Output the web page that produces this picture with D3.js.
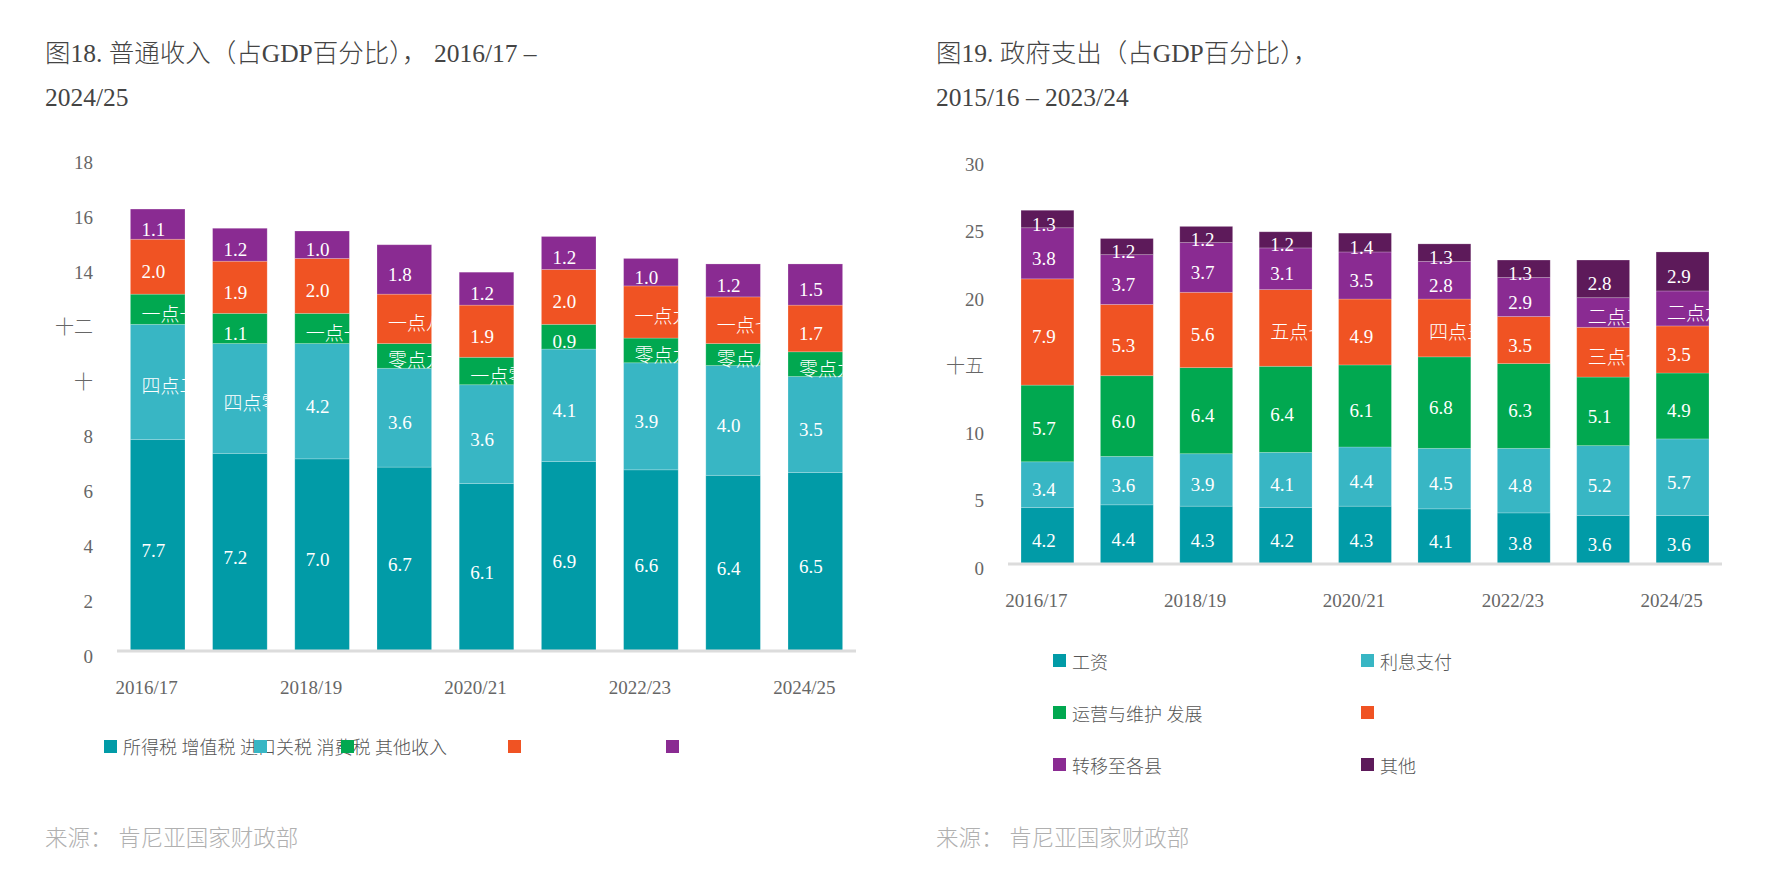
<!DOCTYPE html>
<html><head><meta charset="utf-8">
<script src="https://cdn.jsdelivr.net/npm/d3@7"></script>
<style>
body{margin:0;background:#fff}
text{font-family:"Liberation Serif","Noto Sans CJK SC",serif;font-weight:300}
</style></head><body>
<svg id="c" width="1780" height="880"></svg>
<script>
// ---------- data ----------
const years = ["2016/17","2017/18","2018/19","2019/20","2020/21","2021/22","2022/23","2023/24","2024/25"];
const xTickLabels = ["2016/17","2018/19","2020/21","2022/23","2024/25"];

// Figure 18: revenue (% of GDP)
const revenueKeys = ["所得税","增值税","进口关税","消费税","其他收入"];
const incomeTax    = [7.7,7.2,7.0,6.7,6.1,6.9,6.6,6.4,6.5];
const vat          = [4.2,4.0,4.2,3.6,3.6,4.1,3.9,4.0,3.5];
const importDuty   = [1.1,1.1,1.1,0.9,1.0,0.9,0.9,0.8,0.9];
const excise       = [2.0,1.9,2.0,1.8,1.9,2.0,1.9,1.7,1.7];
const otherRevenue = [1.1,1.2,1.0,1.8,1.2,1.2,1.0,1.2,1.5];
const vatText        = ["四点二","四点零",null,null,null,null,null,null,null];
const importDutyText = ["一点一",null,"一点一","零点九","一点零",null,"零点九","零点八","零点九"];
const exciseText     = [null,null,null,"一点八",null,null,"一点九","一点七",null];
const revenueTicks = [0,2,4,6,8,10,12,14,16,18];
const revenueTickText = ["0","2","4","6","8","十","十二","14","16","18"];
const revenueLegend = ["所得税 增值税 进口关税 消费税 其他收入","","","",""];

// Figure 19: expenditure (% of GDP)
const spendKeys = ["工资","利息支付","运营与维护","发展","转移至各县","其他"];
const wages       = [4.2,4.4,4.3,4.2,4.3,4.1,3.8,3.6,3.6];
const interest    = [3.4,3.6,3.9,4.1,4.4,4.5,4.8,5.2,5.7];
const oAndM       = [5.7,6.0,6.4,6.4,6.1,6.8,6.3,5.1,4.9];
const development = [7.9,5.3,5.6,5.7,4.9,4.3,3.5,3.7,3.5];
const transfers   = [3.8,3.7,3.7,3.1,3.5,2.8,2.9,2.2,2.6];
const otherSpend  = [1.3,1.2,1.2,1.2,1.4,1.3,1.3,2.8,2.9];
const developmentText = [null,null,null,"五点七",null,"四点三",null,"三点七",null];
const transfersText   = [null,null,null,null,null,null,null,"二点二","二点六"];
const spendTicks = [0,5,10,15,20,25,30];
const spendTickText = ["0","5","10","十五","20","25","30"];
const spendLegend = ["工资","利息支付","运营与维护 发展","","转移至各县","其他"];

const titleLeft = ["图18. 普通收入（占GDP百分比），  2016/17 –","2024/25"];
const titleRight = ["图19. 政府支出（占GDP百分比），","2015/16 – 2023/24"];
const sourceText = "来源：  肯尼亚国家财政部";

const palette = ["#019ba7","#38b6c4","#01a850","#f05323","#8a2b92","#5d1a5a"];

// ---------- drawing ----------
const svg = d3.select("#c");
let clipId = 0;

function drawChart(cfg){
  const g = svg.append("g");
  const x = d3.scaleBand().domain(years).range(cfg.xRange).paddingInner(cfg.pi).paddingOuter(cfg.po);
  const y = d3.scaleLinear().domain([0,cfg.max]).range([cfg.y0, cfg.yTop]);
  const rows = years.map((yr,i)=>{const o={year:yr}; cfg.keys.forEach((k,j)=>o[k]=cfg.values[j][i]); return o;});
  const layers = d3.stack().keys(cfg.keys)(rows);

  layers.forEach((layer,j)=>{
    layer.forEach((d,i)=>{
      const bx = x(years[i]), by = y(d[1]), bh = y(d[0]) - y(d[1]), bw = x.bandwidth();
      g.append("rect").attr("x",bx).attr("y",by).attr("width",bw).attr("height",bh)
        .attr("fill",palette[j]).attr("stroke","#ffffff").attr("stroke-opacity",0.25).attr("stroke-width",0.8);
    });
  });
  layers.forEach((layer,j)=>{
    layer.forEach((d,i)=>{
      const bx = x(years[i]), bw = x.bandwidth();
      const id = "clip" + (clipId++);
      g.append("clipPath").attr("id",id).append("rect").attr("x",bx).attr("y",0).attr("width",bw).attr("height",880);
      const override = cfg.texts[j] ? cfg.texts[j][i] : null;
      const v = cfg.values[j][i];
      g.append("text").attr("clip-path","url(#"+id+")")
        .attr("x",bx+11).attr("y",y((d[0]+d[1])/2)+5)
        .attr("dominant-baseline","central")
        .attr("font-size",19).attr("fill","#ffffff")
        .text(override ? override : v.toFixed(1));
    });
  });

  // baseline
  g.append("line").attr("x1",cfg.xRange[0]).attr("x2",cfg.xRange[1])
    .attr("y1",cfg.y0).attr("y2",cfg.y0).attr("stroke","#dcdcdc").attr("stroke-width",3);

  // y axis labels
  const ya = g.append("g").attr("transform","translate("+cfg.yLabelX+",0)")
    .call(d3.axisLeft(y).tickValues(cfg.ticks).tickFormat((d,i)=>cfg.tickText[i]).tickSize(0).tickPadding(0));
  ya.select(".domain").remove();
  ya.selectAll("text").attr("font-size",19).attr("fill","#666").attr("dy",null)
    .attr("dominant-baseline","central").attr("y",cfg.tickDy)
    .style("font-family",'"Liberation Serif","Noto Sans CJK SC",serif').style("font-weight",300);

  // x axis labels
  const xa = g.append("g").attr("transform","translate(0,"+cfg.y0+")")
    .call(d3.axisBottom(x).tickValues(xTickLabels).tickSize(0));
  xa.select(".domain").remove();
  xa.selectAll("text").attr("font-size",19).attr("fill","#666").attr("dy",null)
    .attr("dominant-baseline","central").attr("y",36).attr("x",-11)
    .style("font-family",'"Liberation Serif","Noto Sans CJK SC",serif').style("font-weight",300);

  // title
  cfg.title.forEach((t,i)=>{
    svg.append("text").attr("x",cfg.titleX).attr("y",62 + i*44)
      .attr("font-size",25.5).attr("fill","#444").text(t);
  });
  // source
  svg.append("text").attr("x",cfg.titleX).attr("y",838).attr("dominant-baseline","central")
    .attr("font-size",22.5).attr("fill","#b0b0b0").text(sourceText);
}

drawChart({
  keys: revenueKeys,
  values: [incomeTax, vat, importDuty, excise, otherRevenue],
  texts: [null, vatText, importDutyText, exciseText, null],
  xRange: [117,856], pi: 0.336, po: 0.163,
  max: 18, y0: 651, yTop: 651 - 18*27.45,
  ticks: revenueTicks, tickText: revenueTickText, yLabelX: 93, tickDy: 5,
  title: titleLeft, titleX: 45
});

drawChart({
  keys: spendKeys,
  values: [wages, interest, oAndM, development, transfers, otherSpend],
  texts: [null, null, null, developmentText, transfersText, null],
  xRange: [1008,1722], pi: 0.334, po: 0.164,
  max: 30, y0: 564, yTop: 564 - 30*13.45,
  ticks: spendTicks, tickText: spendTickText, yLabelX: 984, tickDy: 3.5,
  title: titleRight, titleX: 936
});

// legend: revenue
const legL = svg.append("g");
const legLX = [104,254,341,508,666];
revenueLegend.forEach((t,i)=>{
  if(t) legL.append("text").attr("x",legLX[i]+19).attr("y",748).attr("dominant-baseline","central")
    .attr("font-size",18).attr("fill","#555").text(t);
});
revenueLegend.forEach((t,i)=>{
  legL.append("rect").attr("x",legLX[i]).attr("y",740).attr("width",13).attr("height",13).attr("fill",palette[i]);
});

// legend: spending
const legR = svg.append("g");
spendLegend.forEach((t,i)=>{
  const col = i % 2, row = Math.floor(i/2);
  const lx = col === 0 ? 1053 : 1361;
  const ly = 654 + row*52;
  legR.append("rect").attr("x",lx).attr("y",ly).attr("width",13).attr("height",13).attr("fill",palette[i]);
  if(t) legR.append("text").attr("x",lx+19).attr("y",ly+9).attr("dominant-baseline","central")
    .attr("font-size",18).attr("fill","#555").text(t);
});
</script></body></html>
